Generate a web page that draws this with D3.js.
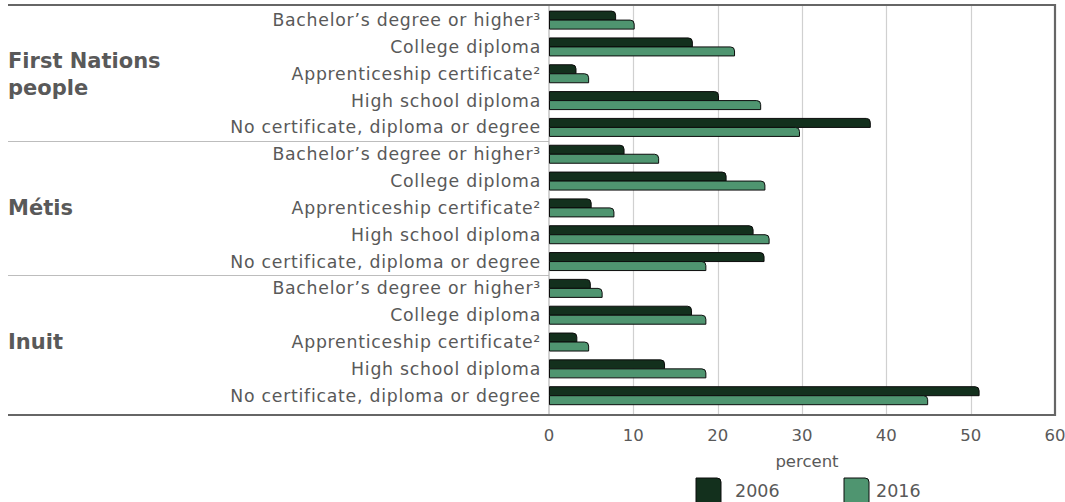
<!DOCTYPE html>
<html>
<head>
<meta charset="utf-8">
<script src="https://cdn.jsdelivr.net/npm/d3@7"></script>
<style>
  body { margin: 0; background: #fff; }
  svg { font-family: "DejaVu Sans", sans-serif; }
  .lbl { fill: #595959; font-size: 16.5px; }
  .cat { font-size: 17.3px; letter-spacing: 0.75px; }
  .grp { fill: #595959; font-size: 21px; font-weight: bold; }
</style>
</head>
<body>
<script>
var w = 1065;
var h = 502;

// groups and education levels, top to bottom
var groups = ["First Nations people", "Métis", "Inuit"];
var levels = ["Bachelor’s degree or higher³", "College diploma", "Apprenticeship certificate²",
              "High school diploma", "No certificate, diploma or degree"];
var years = ["2006", "2016"];
var ticks = [0, 10, 20, 30, 40, 50, 60];

// percent, in the same order as groups x levels
var v2006 = [7.9, 17.0, 3.2, 20.1, 38.1,
             8.9, 21.0, 5.0, 24.2, 25.5,
             4.9, 16.9, 3.3, 13.7, 51.0];
var v2016 = [10.1, 22.0, 4.7, 25.1, 29.7,
             13.0, 25.6, 7.7, 26.1, 18.6,
             6.3, 18.6, 4.7, 18.6, 44.9];

var colors = ["#13301d", "#4f9570"];

var rows = [];
groups.forEach(function(g, gi) {
  levels.forEach(function(l, li) {
    var i = gi * levels.length + li;
    rows.push({ id: i, group: g, level: l, values: [v2006[i], v2016[i]] });
  });
});

var plotL = 549, plotR = 1055, plotT = 5, plotB = 415;

var x = d3.scaleLinear().domain([0, 60]).range([plotL, plotR]);
var y = d3.scalePoint().domain(rows.map(function(d) { return d.id; })).range([20.1, 395.7]);
var inner = d3.scaleBand().domain(years).range([-9, 9]);

var svg = d3.select("body").append("svg")
    .attr("width", w)
    .attr("height", h);

// gridlines
svg.append("g").selectAll("line")
  .data(ticks.slice(1, -1))
  .enter().append("line")
  .attr("x1", function(d) { return Math.round(x(d)) + 0.5; })
  .attr("x2", function(d) { return Math.round(x(d)) + 0.5; })
  .attr("y1", plotT).attr("y2", plotB)
  .attr("stroke", "#d0d0d0")
  .attr("stroke-width", 1.2);

// group separators
var step = y.step();
[1, 2].forEach(function(k) {
  var yy = Math.round(y(k * levels.length) - step / 2) + 0.5;
  svg.append("line")
    .attr("x1", 8).attr("x2", plotL)
    .attr("y1", yy).attr("y2", yy)
    .attr("stroke", "#bdbdbd").attr("stroke-width", 1.2);
});

// axis line at zero
svg.append("line")
  .attr("x1", x(0)).attr("x2", x(0))
  .attr("y1", plotT).attr("y2", plotB)
  .attr("stroke", "#b5b5b5").attr("stroke-width", 1.2);

function barPath(x0, x1, y0, bh) {
  var r = Math.min(4, x1 - x0);
  return "M" + x0 + "," + y0 +
         "L" + (x1 - r) + "," + y0 +
         "Q" + x1 + "," + y0 + " " + x1 + "," + (y0 + r) +
         "L" + x1 + "," + (y0 + bh) +
         "L" + x0 + "," + (y0 + bh) + "Z";
}

// bars
var rowG = svg.append("g").selectAll("g")
  .data(rows)
  .enter().append("g")
  .attr("transform", function(d) { return "translate(0," + y(d.id) + ")"; });

rowG.selectAll("path")
  .data(function(d) { return d.values.map(function(v, i) { return { year: years[i], v: v, i: i }; }); })
  .enter().append("path")
  .attr("d", function(d) { return barPath(x(0) + 0.5, x(d.v), inner(d.year), inner.bandwidth()); })
  .attr("fill", function(d) { return colors[d.i]; })
  .attr("stroke", "#0c0c0c")
  .attr("stroke-width", 1);

// level labels
rowG.append("text")
  .attr("class", "lbl cat")
  .attr("x", 541)
  .attr("y", 0)
  .attr("dy", "0.35em")
  .attr("text-anchor", "end")
  .text(function(d) { return d.level; });

// group labels
groups.forEach(function(g, gi) {
  var lines = gi === 0 ? ["First Nations", "people"] : [g];
  var mid = (y(gi * levels.length) + y(gi * levels.length + levels.length - 1)) / 2;
  var t = svg.append("text").attr("class", "grp").attr("x", 8);
  lines.forEach(function(s, k) {
    t.append("tspan")
      .attr("x", 8)
      .attr("y", mid + (k - (lines.length - 1) / 2) * 27)
      .attr("dy", "0.35em")
      .text(s);
  });
});

// frame
svg.append("path")
  .attr("d", "M8," + plotT + "H" + plotR + "V" + plotB + "H8")
  .attr("fill", "none")
  .attr("stroke", "#666")
  .attr("stroke-width", 2.2);

// x axis labels
svg.append("g").selectAll("text")
  .data(ticks)
  .enter().append("text")
  .attr("class", "lbl")
  .attr("x", function(d) { return x(d); })
  .attr("y", 441)
  .attr("text-anchor", "middle")
  .text(function(d) { return d; });

svg.append("text")
  .attr("class", "lbl")
  .attr("x", (plotL + plotR) / 2 + 5)
  .attr("y", 467)
  .attr("text-anchor", "middle")
  .text("percent");

// legend
var legX = [696, 844];
years.forEach(function(yr, i) {
  svg.append("path")
    .attr("d", barPath(legX[i], legX[i] + 25, 478, 25))
    .attr("fill", colors[i])
    .attr("stroke", "#0c0c0c")
    .attr("stroke-width", 1);
  svg.append("text")
    .attr("class", "lbl")
    .attr("x", legX[i] + (i === 0 ? 39 : 32))
    .attr("y", 497)
    .style("font-size", "17.5px")
    .text(yr);
});
</script>
</body>
</html>
